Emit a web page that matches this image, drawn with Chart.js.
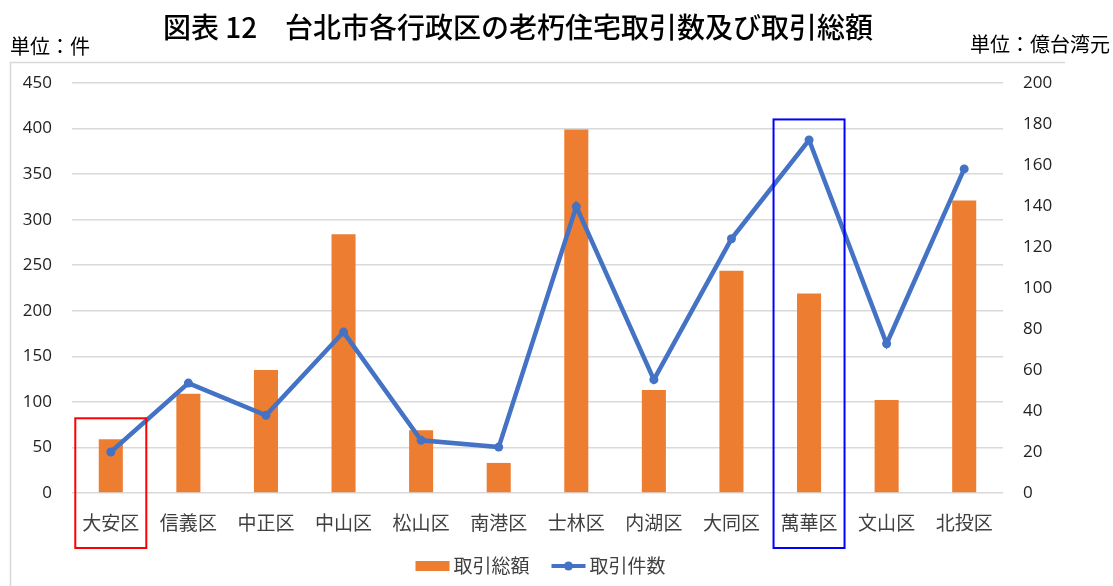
<!DOCTYPE html>
<html>
<head>
<meta charset="utf-8">
<script src="https://cdn.jsdelivr.net/npm/chart.js@4"></script>
<style>
  html, body { margin: 0; padding: 0; background: #fff; }
  #chart { display: block; }
</style>
</head>
<body>
<canvas id="chart" width="1113" height="586"></canvas>
<script>
const districts = ["大安区", "信義区", "中正区", "中山区", "松山区", "南港区", "士林区", "内湖区", "大同区", "萬華区", "文山区", "北投区"];
const totalAmount = [59, 109, 135, 284, 69, 33, 399, 113, 244, 219, 102, 321];
const dealCount = [20, 53.6, 37.9, 78.5, 25.7, 22.4, 139.7, 55.3, 124, 172.2, 72.8, 158.1];
const leftTicks = [0, 50, 100, 150, 200, 250, 300, 350, 400, 450];
const rightTicks = [0, 20, 40, 60, 80, 100, 120, 140, 160, 180, 200];
const highlightIndex = [0, 9];
const highlightTop = [82, 410];
const highlightColor = ["#ff0000", "#0000ff"];

const CJK = "'Noto Sans CJK JP', 'Noto Sans', sans-serif";
const NUM = "'Open Sans', 'Noto Sans', sans-serif";

const decor = {
  id: "decor",
  beforeDraw(chart) {
    const ctx = chart.ctx;
    ctx.save();
    ctx.strokeStyle = "#d9d9d9";
    ctx.lineWidth = 1.5;
    ctx.beginPath();
    ctx.moveTo(1065, 62.5);
    ctx.lineTo(10.5, 62.5);
    ctx.lineTo(10.5, 586);
    ctx.stroke();
    ctx.restore();
  },
  afterDraw(chart) {
    const ctx = chart.ctx;
    const xs = chart.scales.x, ys = chart.scales.y;
    const area = chart.chartArea;
    ctx.save();
    // title and units
    ctx.fillStyle = "#000";
    ctx.textBaseline = "middle";
    ctx.textAlign = "center";
    ctx.font = "500 28px " + CJK;
    ctx.fillText("図表 12　台北市各行政区の老朽住宅取引数及び取引総額", 518, 27);
    ctx.font = "20px " + CJK;
    ctx.textAlign = "left";
    ctx.fillText("単位：件", 10, 46);
    ctx.textAlign = "right";
    ctx.fillText("単位：億台湾元", 1110, 44);

    // highlight boxes
    ctx.lineWidth = 2;
    highlightIndex.forEach((idx, i) => {
      const cx = xs.getPixelForValue(idx);
      const top = ys.getPixelForValue(highlightTop[i]);
      ctx.strokeStyle = highlightColor[i];
      ctx.strokeRect(cx - 35.5, top, 71, area.bottom + 55 - top);
    });

    // legend
    const ds = chart.data.datasets;
    ctx.font = "19px " + CJK;
    ctx.textAlign = "left";
    const sw = 34, gap = 4, between = 22;
    const widths = ds.map(d => sw + gap + ctx.measureText(d.label).width);
    const total = widths.reduce((a, b) => a + b, 0) + between * (ds.length - 1);
    let x = (area.left + area.right) / 2 - total / 2 + 3;
    const ly = 566;
    ds.forEach((d, i) => {
      if (d.type === "bar") {
        ctx.fillStyle = d.backgroundColor;
        ctx.fillRect(x, ly - 5, sw, 10);
      } else {
        ctx.strokeStyle = d.borderColor;
        ctx.lineWidth = 4;
        ctx.beginPath();
        ctx.moveTo(x, ly);
        ctx.lineTo(x + sw, ly);
        ctx.stroke();
        ctx.fillStyle = d.borderColor;
        ctx.beginPath();
        ctx.arc(x + sw / 2, ly, 4.5, 0, Math.PI * 2);
        ctx.fill();
      }
      ctx.fillStyle = "#404040";
      ctx.fillText(d.label, x + sw + gap, ly);
      x += widths[i] + between;
    });
    ctx.restore();
  }
};

new Chart(document.getElementById("chart"), {
  data: {
    labels: districts,
    datasets: [
      {
        type: "bar",
        label: "取引総額",
        data: totalAmount,
        yAxisID: "y",
        backgroundColor: "#ED7D31",
        barPercentage: 0.31,
        categoryPercentage: 1,
        order: 2
      },
      {
        type: "line",
        label: "取引件数",
        data: dealCount,
        yAxisID: "y1",
        borderColor: "#4472C4",
        backgroundColor: "#4472C4",
        borderWidth: 4.5,
        pointRadius: 4.5,
        pointHoverRadius: 4.5,
        pointBackgroundColor: "#4472C4",
        pointBorderWidth: 0,
        tension: 0,
        order: 1
      }
    ]
  },
  options: {
    responsive: false,
    animation: false,
    devicePixelRatio: 1,
    layout: { padding: { top: 83, bottom: 30, left: 0, right: 0 } },
    plugins: {
      legend: { display: false },
      title: { display: false },
      tooltip: { enabled: false }
    },
    scales: {
      x: {
        grid: { display: false },
        border: { display: false },
        ticks: { font: { family: CJK, size: 19 }, color: "#404040", padding: 10, maxRotation: 0 },
        afterFit: s => { s.height = 63; }
      },
      y: {
        position: "left",
        min: 0,
        max: 450,
        afterBuildTicks: s => { s.ticks = leftTicks.map(v => ({ value: v })); },
        grid: { color: "#d9d9d9", lineWidth: 1.5, drawTicks: false },
        border: { display: false },
        ticks: { font: { family: NUM, size: 17 }, color: "#222", padding: 20 },
        afterFit: s => { s.width = 72; }
      },
      y1: {
        position: "right",
        min: 0,
        max: 200,
        afterBuildTicks: s => { s.ticks = rightTicks.map(v => ({ value: v })); },
        grid: { display: false, drawTicks: false },
        border: { display: false },
        ticks: { font: { family: NUM, size: 17 }, color: "#222", padding: 20 },
        afterFit: s => { s.width = 110; }
      }
    }
  },
  plugins: [decor]
});
</script>
</body>
</html>
